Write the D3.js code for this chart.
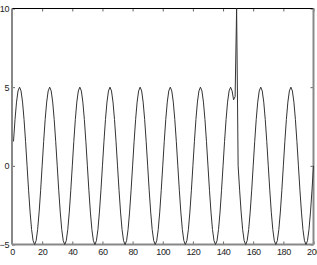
<!DOCTYPE html>
<html>
<head>
<meta charset="utf-8">
<script src="https://cdn.jsdelivr.net/npm/d3@7"></script>
<style>
  body { margin: 0; background: #fff; }
  .tick text { font-family: "Liberation Sans", Arial, sans-serif; font-size: 9px; fill: #222; letter-spacing: -0.4px; }
</style>
</head>
<body>
<div id="chart"></div>
<script>
// Sample positions 1..200 and the signal (sine, amp 5, period 20, one spike near 149)
const sampleX = d3.range(1, 201);
const signalY = [
  1.55, 2.94, 4.05, 4.76, 5, 4.76, 4.05, 2.94, 1.55, 0, -1.55, -2.94, -4.05, -4.76, -5, -4.76, -4.05, -2.94, -1.55, 0,
  1.55, 2.94, 4.05, 4.76, 5, 4.76, 4.05, 2.94, 1.55, 0, -1.55, -2.94, -4.05, -4.76, -5, -4.76, -4.05, -2.94, -1.55, 0,
  1.55, 2.94, 4.05, 4.76, 5, 4.76, 4.05, 2.94, 1.55, 0, -1.55, -2.94, -4.05, -4.76, -5, -4.76, -4.05, -2.94, -1.55, 0,
  1.55, 2.94, 4.05, 4.76, 5, 4.76, 4.05, 2.94, 1.55, 0, -1.55, -2.94, -4.05, -4.76, -5, -4.76, -4.05, -2.94, -1.55, 0,
  1.55, 2.94, 4.05, 4.76, 5, 4.76, 4.05, 2.94, 1.55, 0, -1.55, -2.94, -4.05, -4.76, -5, -4.76, -4.05, -2.94, -1.55, 0,
  1.55, 2.94, 4.05, 4.76, 5, 4.76, 4.05, 2.94, 1.55, 0, -1.55, -2.94, -4.05, -4.76, -5, -4.76, -4.05, -2.94, -1.55, 0,
  1.55, 2.94, 4.05, 4.76, 5, 4.76, 4.05, 2.94, 1.55, 0, -1.55, -2.94, -4.05, -4.76, -5, -4.76, -4.05, -2.94, -1.55, 0,
  1.55, 2.94, 4.05, 4.76, 5, 4.76, 4.2, 4.4, 10, 0, -1.55, -2.94, -4.05, -4.76, -5, -4.76, -4.05, -2.94, -1.55, 0,
  1.55, 2.94, 4.05, 4.76, 5, 4.76, 4.05, 2.94, 1.55, 0, -1.55, -2.94, -4.05, -4.76, -5, -4.76, -4.05, -2.94, -1.55, 0,
  1.55, 2.94, 4.05, 4.76, 5, 4.76, 4.05, 2.94, 1.55, 0, -1.55, -2.94, -4.05, -4.76, -5, -4.76, -4.05, -2.94, -1.55, 0
];
const xTicks = [0, 20, 40, 60, 80, 100, 120, 140, 160, 180, 200];
const yTicks = [-5, 0, 5, 10];

const width = 317, height = 265;
const margin = { top: 8.5, right: 3.5, bottom: 20.5, left: 12 };

const svg = d3.select("#chart").append("svg")
    .attr("width", width)
    .attr("height", height);

const x = d3.scaleLinear().domain([0, 200]).range([margin.left, width - margin.right]);
const y = d3.scaleLinear().domain([-5, 10]).range([height - margin.bottom, margin.top]);

// Axes with inward ticks, MATLAB style box
svg.append("g")
    .attr("transform", `translate(0,${y(-5)})`)
    .call(d3.axisBottom(x).tickValues(xTicks).tickSizeInner(-3).tickSizeOuter(0).tickPadding(4))
    .call(g => g.select(".domain").remove())
    .call(g => g.selectAll("line").attr("stroke", "#666"));

svg.append("g")
    .attr("transform", `translate(0,${y(10)})`)
    .call(d3.axisTop(x).tickValues(xTicks).tickSizeInner(-3).tickSizeOuter(0).tickFormat(""))
    .call(g => g.select(".domain").remove())
    .call(g => g.selectAll("line").attr("stroke", "#666"));

svg.append("g")
    .attr("transform", `translate(${x(0)},0)`)
    .call(d3.axisLeft(y).tickValues(yTicks).tickSizeInner(-3).tickSizeOuter(0).tickPadding(3))
    .call(g => g.select(".domain").remove())
    .call(g => g.selectAll("line").attr("stroke", "#666"));

svg.append("g")
    .attr("transform", `translate(${x(200)},0)`)
    .call(d3.axisRight(y).tickValues(yTicks).tickSizeInner(-3).tickSizeOuter(0).tickFormat(""))
    .call(g => g.select(".domain").remove())
    .call(g => g.selectAll("line").attr("stroke", "#666"));

// Box edges
svg.append("line")
    .attr("x1", x(0)).attr("x2", x(200)).attr("y1", y(10)).attr("y2", y(10))
    .attr("stroke", "#000").attr("stroke-width", 1);
svg.append("line")
    .attr("x1", x(0)).attr("x2", x(200)).attr("y1", y(-5)).attr("y2", y(-5))
    .attr("stroke", "#888").attr("stroke-width", 2);
svg.append("line")
    .attr("x1", x(0)).attr("x2", x(0)).attr("y1", y(10)).attr("y2", y(-5))
    .attr("stroke", "#888").attr("stroke-width", 2);
svg.append("line")
    .attr("x1", x(200)).attr("x2", x(200)).attr("y1", y(10)).attr("y2", y(-5))
    .attr("stroke", "#888").attr("stroke-width", 2);

// Signal line
const line = d3.line()
    .x((d, i) => x(sampleX[i]))
    .y(d => y(d));

svg.append("path")
    .datum(signalY)
    .attr("fill", "none")
    .attr("stroke", "#333")
    .attr("stroke-width", 1)
    .attr("d", line);
</script>
</body>
</html>
